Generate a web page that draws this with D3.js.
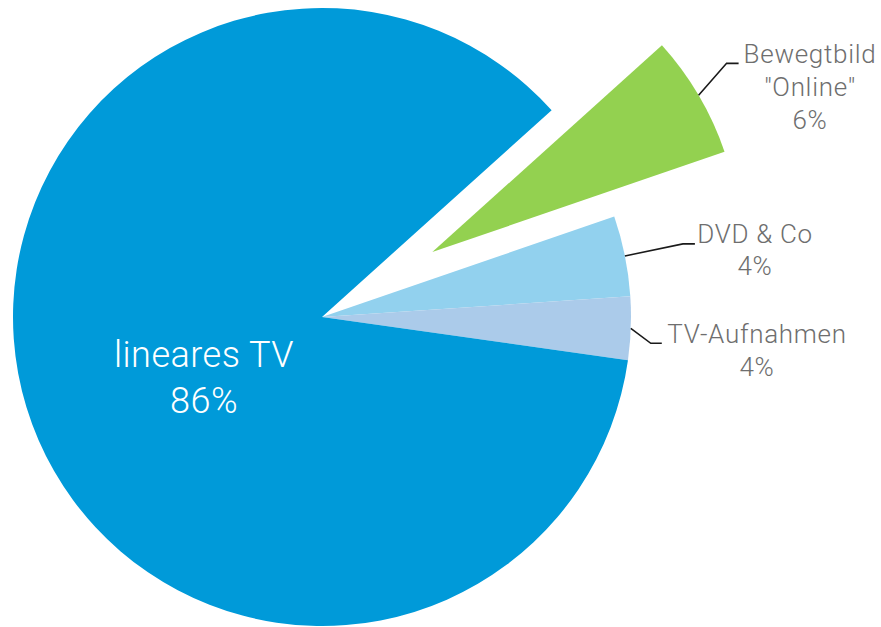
<!DOCTYPE html>
<html>
  <head>
    <meta charset="utf-8">
    <title></title>
  </head>
  <style>
  body{
    margin: 0;
    background: #fff;
    font-family: "Roboto", "Noto Sans", sans-serif;
  }
  .outer-label text{
    fill: #6e6e6e;
    font-size: 26px;
    font-weight: 300;
    letter-spacing: 0.7px;
  }
  .inner-label text{
    fill: #fff;
    font-size: 36px;
    font-weight: 300;
    letter-spacing: 0.5px;
  }
  .leader{
    fill: none;
    stroke: #1a1a1a;
    stroke-width: 1.6;
  }
  </style>
  <script src="https://d3js.org/d3.v7.min.js"></script>
  <body>
    <script>
    // Werte (Winkel), Beschriftungen wie im Original
    const categories = ['Bewegtbild "Online"', "DVD & Co", "TV-Aufnahmen", "lineares TV"]
    const values     = [6.4, 4.2, 3.3, 86.1]
    const pctLabels  = ["6%", "4%", "4%", "86%"]
    const nameLines  = [["Bewegtbild", "\"Online\""], ["DVD & Co"], ["TV-Aufnahmen"], ["lineares TV"]]
    const colors     = ["#93d150", "#92d1ee", "#abcbea", "#009ad9"]

    var width = 881
    var height = 627
    var cx = 322, cy = 317
    var radius = 309
    var explode = 128   // "Online" Stück herausgezogen

    var svg = d3.select("body")
                .append("svg")
                .attr("width", width)
                .attr("height", height)

    var g = svg.append("g").attr("transform", "translate(" + cx + "," + cy + ")")

    var data = categories.map(function(c, i){
      return { name: c, value: values[i], pct: pctLabels[i], lines: nameLines[i], color: colors[i] }
    })

    var pie = d3.pie()
                .sort(null)
                .value(function(d){ return d.value })
                .startAngle(48 * Math.PI / 180)
                .endAngle(48 * Math.PI / 180 + 2 * Math.PI)

    var arc = d3.arc().innerRadius(0).outerRadius(radius)

    var arcs = pie(data)

    function offset(d, i){
      if (i !== 0) return [0, 0]
      var a = (d.startAngle + d.endAngle) / 2
      return [Math.sin(a) * explode, -Math.cos(a) * explode]
    }

    g.selectAll("path.slice")
     .data(arcs)
     .enter()
     .append("path")
     .attr("class", "slice")
     .attr("d", arc)
     .attr("fill", function(d){ return d.data.color })
     .attr("transform", function(d, i){
        var o = offset(d, i)
        return "translate(" + o[0] + "," + o[1] + ")"
     })

    // Führungslinien: Startpunkt am Außenrand (Mitte des Stücks), dann Knick, dann kurz waagrecht
    var leaderShape = [
      { dx: 28, dy: -32, h: 12, tx: 810, ty: -254, lh: 33 },
      { dx: 58, dy: -12, h: 12, tx: 755, ty: -74, lh: 32 },
      { dx: 20, dy: 15,  h: 11, tx: 757, ty: 26,  lh: 33 }
    ]

    arcs.slice(0, 3).forEach(function(d, i){
      var o = offset(d, i)
      var a = (d.startAngle + d.endAngle) / 2
      var x0 = o[0] + Math.sin(a) * radius
      var y0 = o[1] - Math.cos(a) * radius
      var s = leaderShape[i]
      var x1 = x0 + s.dx, y1 = y0 + s.dy
      g.append("path")
       .attr("class", "leader")
       .attr("d", d3.line()([[x0, y0], [x1, y1], [x1 + s.h, y1]]))

      var lbl = svg.append("g").attr("class", "outer-label")
      var lines = d.data.lines.concat([d.data.pct])
      lines.forEach(function(t, k){
        lbl.append("text")
           .attr("x", s.tx)
           .attr("y", cy + s.ty + k * s.lh)
           .attr("text-anchor", "middle")
           .text(t)
      })
    })

    // Beschriftung im großen Stück
    var inner = svg.append("g").attr("class", "inner-label")
    var big = arcs[3]
    inner.append("text")
         .attr("x", 204).attr("y", 367)
         .attr("text-anchor", "middle")
         .text(big.data.lines[0])
    inner.append("text")
         .attr("x", 204).attr("y", 413)
         .attr("text-anchor", "middle")
         .text(big.data.pct)

    </script>
  </body>
</html>
